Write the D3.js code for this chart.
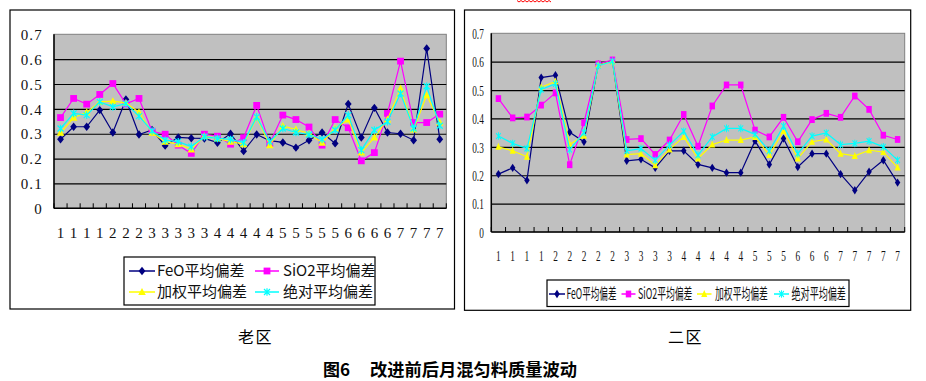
<!DOCTYPE html>
<html><head><meta charset="utf-8">
<script src="https://cdn.jsdelivr.net/npm/d3@7"></script>
<style>body{margin:0;background:#fff;} svg{display:block;}</style>
</head><body><svg id="c" width="926" height="381"></svg>
<script>
// ---------- data ----------
const seriesNames = ["FeO平均偏差", "SiO2平均偏差", "加权平均偏差", "绝对平均偏差"];
const yTicks = [0, 0.1, 0.2, 0.3, 0.4, 0.5, 0.6, 0.7];

const oldLabels = ["1","1","1","1","2","2","2","3","3","3","3","3","4","4","4","4","4","5","5","5","5","5","6","6","6","6","7","7","7","7"];
const oldFeO      = [0.278,0.328,0.328,0.395,0.305,0.438,0.297,0.315,0.252,0.285,0.282,0.281,0.264,0.300,0.230,0.297,0.272,0.265,0.244,0.274,0.305,0.261,0.420,0.285,0.404,0.305,0.300,0.274,0.643,0.278];
const oldSiO2     = [0.365,0.442,0.419,0.458,0.502,0.420,0.442,0.310,0.298,0.254,0.221,0.298,0.290,0.258,0.284,0.414,0.261,0.375,0.357,0.327,0.254,0.357,0.324,0.191,0.224,0.382,0.592,0.345,0.345,0.379];
const oldWeighted = [0.304,0.364,0.386,0.428,0.431,0.424,0.386,0.304,0.268,0.258,0.237,0.290,0.281,0.268,0.258,0.365,0.254,0.331,0.317,0.301,0.264,0.321,0.357,0.224,0.285,0.357,0.482,0.317,0.455,0.345];
const oldAbs      = [0.321,0.382,0.375,0.428,0.408,0.421,0.371,0.311,0.274,0.268,0.248,0.288,0.281,0.277,0.264,0.368,0.268,0.321,0.305,0.297,0.277,0.315,0.375,0.234,0.315,0.348,0.462,0.321,0.491,0.332];

const newLabels = ["1","1","1","1","2","2","2","2","2","3","3","3","3","4","4","4","4","4","5","5","5","6","6","6","7","7","7","7","7"];
const newFeO      = [0.204,0.226,0.182,0.544,0.552,0.351,0.318,0.590,0.603,0.251,0.256,0.226,0.286,0.286,0.238,0.226,0.209,0.209,0.321,0.238,0.329,0.229,0.276,0.276,0.204,0.147,0.212,0.253,0.174];
const newSiO2     = [0.470,0.402,0.405,0.447,0.490,0.237,0.385,0.592,0.606,0.326,0.329,0.273,0.324,0.414,0.302,0.444,0.518,0.518,0.359,0.335,0.404,0.318,0.396,0.418,0.404,0.479,0.432,0.341,0.326];
const newWeighted = [0.300,0.286,0.265,0.510,0.530,0.309,0.339,0.588,0.601,0.273,0.276,0.235,0.291,0.335,0.259,0.308,0.324,0.324,0.335,0.271,0.356,0.259,0.318,0.326,0.276,0.268,0.288,0.282,0.227];
const newAbs      = [0.338,0.312,0.294,0.502,0.522,0.290,0.350,0.586,0.601,0.286,0.294,0.253,0.306,0.355,0.271,0.335,0.365,0.365,0.344,0.286,0.373,0.276,0.338,0.349,0.308,0.312,0.320,0.300,0.253];

// ---------- styles ----------
const colors = ["#000080", "#FF00FF", "#FFFF00", "#00FFFF"];
const markers = ["diamond", "square", "triangle", "star"];
const svg = d3.select("#c");
const SERIF = "'Liberation Serif','DejaVu Serif',serif";
const CJK = "'Noto Sans CJK SC','Noto Sans',sans-serif";

function drawMarker(g, type, color, sx) {
  if (type === "diamond") {
    g.append("path").attr("d", "M0,-4.2L3.4,0L0,4.2L-3.4,0Z").attr("fill", color).attr("transform", `scale(${sx},1)`);
  } else if (type === "square") {
    g.append("rect").attr("x", -3.4).attr("y", -3.4).attr("width", 6.8).attr("height", 6.8).attr("fill", color).attr("transform", `scale(${sx},1)`);
  } else if (type === "triangle") {
    g.append("path").attr("d", "M0,-4L3.8,3L-3.8,3Z").attr("fill", color).attr("transform", `scale(${sx},1)`);
  } else {
    g.append("path").attr("d", "M-3,-3L3,3M-3,3L3,-3M0,-3.8L0,3.8").attr("stroke", color).attr("stroke-width", 1.2).attr("fill", "none").attr("transform", `scale(${sx},1)`);
  }
}

function panel(cfg) {
  const g = svg.append("g");
  g.append("rect").attr("x", cfg.frame[0]).attr("y", cfg.frame[1])
    .attr("width", cfg.frame[2] - cfg.frame[0]).attr("height", cfg.frame[3] - cfg.frame[1])
    .attr("fill", "#fff").attr("stroke", "#000").attr("stroke-width", 1.2);

  const n = cfg.labels.length;
  const x = d3.scaleBand().domain(d3.range(n)).range([cfg.x0, cfg.x1]).paddingInner(0).paddingOuter(0);
  const y = d3.scaleLinear().domain([0, 0.7]).range([cfg.y1, cfg.y0]);

  g.append("rect").attr("x", cfg.x0).attr("y", cfg.y0).attr("width", cfg.x1 - cfg.x0).attr("height", cfg.y1 - cfg.y0)
    .attr("fill", "#C0C0C0").attr("stroke", "#808080").attr("stroke-width", 1);

  const grid = g.append("g").attr("transform", `translate(${cfg.x0},0)`)
    .call(d3.axisLeft(y).tickValues(yTicks.slice(1, 7)).tickSize(-(cfg.x1 - cfg.x0)).tickFormat(""));
  grid.select(".domain").remove();
  grid.selectAll("line").attr("stroke", "#000").attr("stroke-width", 1.2);

  g.append("g").selectAll("line").data(d3.range(n + 1)).join("line")
    .attr("x1", i => cfg.x0 + i * x.step()).attr("x2", i => cfg.x0 + i * x.step())
    .attr("y1", cfg.y1 - 5).attr("y2", cfg.y1).attr("stroke", "#000").attr("stroke-width", 1);

  g.append("line").attr("x1", cfg.x0).attr("x2", cfg.x0).attr("y1", cfg.y0).attr("y2", cfg.y1).attr("stroke", "#000").attr("stroke-width", 1.5);
  g.append("line").attr("x1", cfg.x0).attr("x2", cfg.x1).attr("y1", cfg.y1).attr("y2", cfg.y1).attr("stroke", "#000").attr("stroke-width", 1.5);

  const ya = g.append("g").attr("transform", `translate(${cfg.x0},0)`)
    .call(d3.axisLeft(y).tickValues(yTicks).tickSize(0).tickFormat(d => d === 0 ? "0" : d3.format(".1f")(d)));
  ya.select(".domain").remove();
  ya.selectAll("text").attr("x", 0).attr("dy", "0.35em")
    .attr("transform", `translate(${-cfg.yLabelGap},0) scale(${cfg.sx},1)`)
    .attr("font-family", SERIF).attr("font-size", 15).attr("letter-spacing", cfg.sx < 1 ? 0 : 1.2).attr("fill", "#111");

  const xa = g.append("g").attr("transform", `translate(0,${cfg.y1})`)
    .call(d3.axisBottom(x).tickSize(0).tickFormat(i => cfg.labels[i]));
  xa.select(".domain").remove();
  xa.selectAll("text").attr("y", 0).attr("dy", "0.35em")
    .attr("transform", `translate(0,${cfg.xLabelGap}) scale(${cfg.sx},1)`)
    .attr("font-family", SERIF).attr("font-size", 15).attr("fill", "#111");

  const line = d3.line().x((d, i) => x(i) + x.bandwidth() / 2).y(d => y(d));
  cfg.series.forEach((vals, s) => {
    const sg = g.append("g");
    sg.append("path").datum(vals).attr("d", line).attr("fill", "none")
      .attr("stroke", colors[s]).attr("stroke-width", 1.2);
    vals.forEach((v, i) => {
      const mg = sg.append("g").attr("transform", `translate(${x(i) + x.bandwidth() / 2},${y(v)})`);
      drawMarker(mg, markers[s], colors[s], cfg.markerSx);
    });
  });

  const L = cfg.legend;
  g.append("rect").attr("x", L.box[0]).attr("y", L.box[1]).attr("width", L.box[2] - L.box[0]).attr("height", L.box[3] - L.box[1])
    .attr("fill", "#fff").attr("stroke", "#000").attr("stroke-width", 1.2);
  L.items.forEach((it, s) => {
    const lg = g.append("g");
    lg.append("line").attr("x1", it.lx1).attr("x2", it.lx2).attr("y1", it.y).attr("y2", it.y)
      .attr("stroke", colors[s]).attr("stroke-width", 1.5);
    const mg = lg.append("g").attr("transform", `translate(${(it.lx1 + it.lx2) / 2},${it.y})`);
    drawMarker(mg, markers[s], colors[s], cfg.markerSx);
    const t = lg.append("text").attr("x", 0).attr("y", 0).attr("dy", "0.36em")
      .attr("font-family", CJK).attr("font-size", 15).attr("fill", "#111").text(seriesNames[s]);
    let k = 1;
    if (it.tw) { const w = t.node().getComputedTextLength(); if (w > 0) k = it.tw / w; }
    t.attr("transform", `translate(${it.tx},${it.y}) scale(${k},1)`);
  });
}

panel({
  frame: [10, 10, 454.5, 309],
  x0: 54, x1: 446.3, y0: 34.3, y1: 208.3,
  labels: oldLabels, series: [oldFeO, oldSiO2, oldWeighted, oldAbs],
  sx: 1, markerSx: 1, yLabelGap: 11, xLabelGap: 24,
  legend: {
    box: [124, 257, 375, 305],
    items: [
      { lx1: 129, lx2: 155, tx: 157, y: 271 },
      { lx1: 255, lx2: 279, tx: 283, y: 271 },
      { lx1: 129, lx2: 155, tx: 157, y: 292 },
      { lx1: 255, lx2: 279, tx: 283, y: 292 }
    ]
  }
});

panel({
  frame: [464.5, 10, 910.7, 310.3],
  x0: 491.3, x1: 904.7, y0: 33.3, y1: 232,
  labels: newLabels, series: [newFeO, newSiO2, newWeighted, newAbs],
  sx: 0.62, markerSx: 0.8, yLabelGap: 7.5, xLabelGap: 24,
  legend: {
    box: [547, 280, 849, 306.5],
    items: [
      { lx1: 549, lx2: 565, tx: 566.5, y: 294, tw: 50 },
      { lx1: 621.5, lx2: 635.5, tx: 638, y: 294, tw: 54.5 },
      { lx1: 697, lx2: 711.5, tx: 715, y: 294, tw: 53 },
      { lx1: 774, lx2: 789, tx: 791.5, y: 294, tw: 54.5 }
    ]
  }
});

svg.append("text").attr("x", 238).attr("y", 337.5).attr("dy", "0.36em").attr("font-family", CJK)
  .attr("font-size", 16).attr("letter-spacing", 1.5).attr("fill", "#000").text("老区");
svg.append("text").attr("x", 668).attr("y", 337.5).attr("dy", "0.36em").attr("font-family", CJK)
  .attr("font-size", 16).attr("letter-spacing", 1.5).attr("fill", "#000").text("二区");
svg.append("text").attr("x", 323).attr("y", 370).attr("dy", "0.36em").attr("font-family", CJK)
  .attr("font-size", 17).attr("font-weight", "bold").attr("fill", "#000").text("图6");
svg.append("text").attr("x", 577).attr("y", 370).attr("dy", "0.36em").attr("text-anchor", "end").attr("font-family", CJK)
  .attr("font-size", 17).attr("font-weight", "bold").attr("fill", "#000")
  .attr("textLength", 207).attr("lengthAdjust", "spacingAndGlyphs").text("改进前后月混匀料质量波动");

const sq = d3.range(0, 36, 2).map((d, i) => [517 + d, i % 2 ? 2 : 0.5]);
svg.append("path").attr("d", d3.line()(sq)).attr("fill", "none").attr("stroke", "#FF0000").attr("stroke-width", 1);
</script></body></html>
